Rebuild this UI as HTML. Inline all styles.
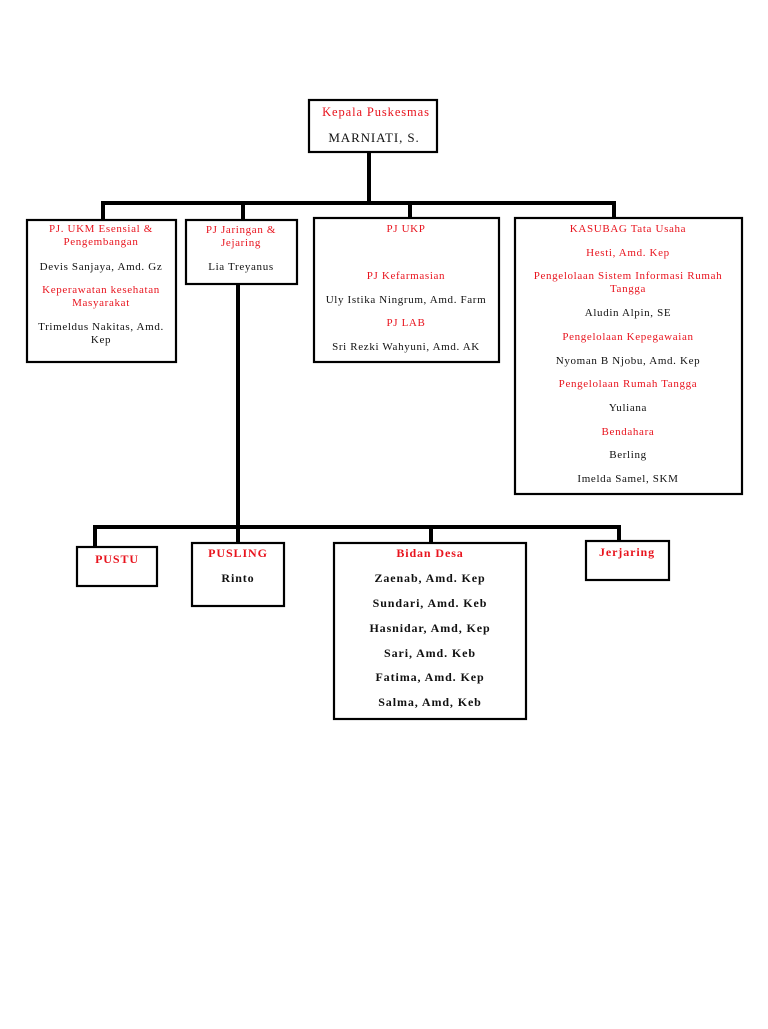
<!DOCTYPE html>
<html><head><meta charset="utf-8"><style>
body{margin:0;background:#fff}
svg text{font-family:"Liberation Serif",serif;text-anchor:middle}
.r{fill:#e8141e}.k{fill:#111}
.s{font-size:11px;letter-spacing:0.65px}.b{font-size:12px;font-weight:bold;letter-spacing:0.9px}
.t{letter-spacing:0.9px}
</style></head><body>
<svg width="768" height="1024" viewBox="0 0 768 1024" xmlns="http://www.w3.org/2000/svg">
<g stroke="#000" stroke-width="4" fill="none">
<path d="M369 152V203M101 203H616M103 201V222M243 201V220M410 201V218M614 201V218"/>
<path d="M238 284V545M93 527H621M95 525V548M431 525V544M619 525V543"/>
</g>
<g fill="#fff" stroke="#000" stroke-width="2.2">
<rect x="309" y="100" width="128" height="52"/>
<rect x="27" y="220" width="149" height="142"/>
<rect x="186" y="220" width="111" height="64"/>
<rect x="314" y="218" width="185" height="144"/>
<rect x="515" y="218" width="227" height="276"/>
<rect x="77" y="547" width="80" height="39"/>
<rect x="192" y="543" width="92" height="63"/>
<rect x="334" y="543" width="192" height="176"/>
<rect x="586" y="541" width="83" height="39"/>
</g>
<text x="376" y="116" class="r t" font-size="12.5">Kepala Puskesmas</text>
<text x="374" y="142" class="k t" font-size="13">MARNIATI, S.</text>

<text x="101" y="232" class="r s">PJ. UKM Esensial &amp;</text>
<text x="101" y="245" class="r s">Pengembangan</text>
<text x="101" y="270" class="k s">Devis Sanjaya, Amd. Gz</text>
<text x="101" y="293" class="r s">Keperawatan kesehatan</text>
<text x="101" y="306" class="r s">Masyarakat</text>
<text x="101" y="330" class="k s">Trimeldus Nakitas, Amd.</text>
<text x="101" y="343" class="k s">Kep</text>

<text x="241" y="233" class="r s">PJ Jaringan &amp;</text>
<text x="241" y="246" class="r s">Jejaring</text>
<text x="241" y="270" class="k s">Lia Treyanus</text>

<text x="406" y="232" class="r s">PJ UKP</text>
<text x="406" y="279" class="r s">PJ Kefarmasian</text>
<text x="406" y="303" class="k s">Uly Istika Ningrum, Amd. Farm</text>
<text x="406" y="326" class="r s">PJ LAB</text>
<text x="406" y="350" class="k s">Sri Rezki Wahyuni, Amd. AK</text>

<text x="628" y="232" class="r s">KASUBAG Tata Usaha</text>
<text x="628" y="256" class="r s">Hesti, Amd. Kep</text>
<text x="628" y="279" class="r s">Pengelolaan Sistem Informasi Rumah</text>
<text x="628" y="292" class="r s">Tangga</text>
<text x="628" y="316" class="k s">Aludin Alpin, SE</text>
<text x="628" y="340" class="r s">Pengelolaan Kepegawaian</text>
<text x="628" y="364" class="k s">Nyoman B Njobu, Amd. Kep</text>
<text x="628" y="387" class="r s">Pengelolaan Rumah Tangga</text>
<text x="628" y="411" class="k s">Yuliana</text>
<text x="628" y="435" class="r s">Bendahara</text>
<text x="628" y="458" class="k s">Berling</text>
<text x="628" y="482" class="k s">Imelda Samel, SKM</text>

<text x="117" y="563" class="r b">PUSTU</text>
<text x="238" y="557" class="r b">PUSLING</text>
<text x="238" y="582" class="k b">Rinto</text>
<text x="430" y="557" class="r b">Bidan Desa</text>
<text x="430" y="582" class="k b">Zaenab, Amd. Kep</text>
<text x="430" y="607" class="k b">Sundari, Amd. Keb</text>
<text x="430" y="632" class="k b">Hasnidar, Amd, Kep</text>
<text x="430" y="657" class="k b">Sari, Amd. Keb</text>
<text x="430" y="681" class="k b">Fatima, Amd. Kep</text>
<text x="430" y="706" class="k b">Salma, Amd, Keb</text>
<text x="627" y="556" class="r b">Jerjaring</text>
</svg>
</body></html>
